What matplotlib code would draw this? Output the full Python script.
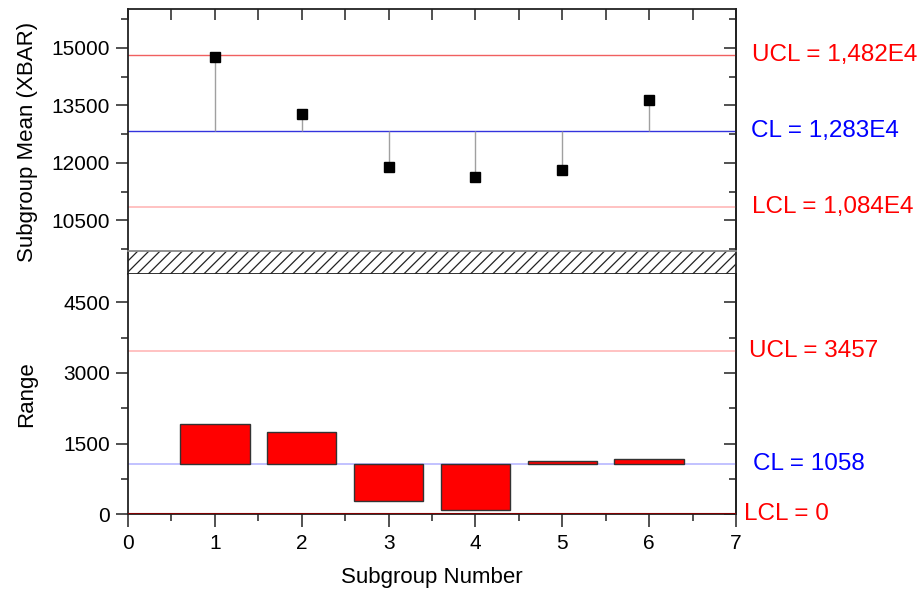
import matplotlib
matplotlib.use("Agg")
import matplotlib.pyplot as plt
from matplotlib.ticker import MultipleLocator
import matplotlib.transforms as mtransforms

plt.rcParams['font.family'] = ['Liberation Sans', 'DejaVu Sans']
plt.rcParams['hatch.linewidth'] = 0.9

subgroups = [1, 2, 3, 4, 5, 6]
xbar = [14760, 13260, 11880, 11640, 11810, 13640]
ranges = [1917, 1741, 289, 85, 1125, 1174]

xbar_ucl, xbar_cl, xbar_lcl = 14820, 12830, 10840
r_ucl, r_cl, r_lcl = 3457, 1058, 0

xbar_labels = ["UCL = 1,482E4", "CL = 1,283E4", "LCL = 1,084E4"]
r_labels = ["UCL = 3457", "CL = 1058", "LCL = 0"]

W, H = 922, 594
fig = plt.figure(figsize=(W / 100, H / 100), dpi=100)

left = 128 / W
width = 608 / W
ax1 = fig.add_axes([left, 1 - 251 / H, width, (251 - 9.4) / H])
axb = fig.add_axes([left, 1 - 274 / H, width, 23 / H])
ax2 = fig.add_axes([left, 1 - 514.3 / H, width, (514.3 - 274) / H])

spine_c = '#222222'
tick_fs = 15


def style_y(ax):
    ax.yaxis.set_major_locator(MultipleLocator(1500))
    ax.yaxis.set_minor_locator(MultipleLocator(750))
    ax.tick_params(axis='y', which='major', left=True, right=False, direction='out',
                   length=9, width=1.1, labelsize=tick_fs, pad=4, color=spine_c)
    ax.tick_params(axis='y', which='minor', left=True, right=False, direction='out',
                   length=5, width=1.1, color=spine_c)
    sec = ax.secondary_yaxis('right')
    sec.yaxis.set_major_locator(MultipleLocator(1500))
    sec.yaxis.set_minor_locator(MultipleLocator(750))
    sec.tick_params(axis='y', which='major', direction='in', length=9, width=1.1,
                    labelright=False, color=spine_c)
    sec.tick_params(axis='y', which='minor', direction='in', length=5, width=1.1,
                    color=spine_c)
    sec.spines['right'].set_color(spine_c)
    sec.spines['right'].set_linewidth(1.3)


# Upper panel
ax1.set_xlim(0, 7)
ax1.set_ylim(9700, 16000)
ax1.vlines(subgroups, xbar_cl, xbar, colors='#a0a0a0', linewidth=1.0, zorder=2)
ax1.axhline(xbar_ucl, color='#f06060', linewidth=1.0, zorder=1)
ax1.axhline(xbar_cl, color='#3333dd', linewidth=1.0, zorder=1)
ax1.axhline(xbar_lcl, color='#ffb8b8', linewidth=1.2, zorder=1)
ax1.plot(subgroups, xbar, 's', color='black', markersize=6.5, zorder=3)
ax1.xaxis.set_major_locator(MultipleLocator(1))
ax1.xaxis.set_minor_locator(MultipleLocator(0.5))
ax1.tick_params(axis='x', which='both', bottom=False, labelbottom=False,
                top=True, direction='in', length=8, width=1.1, color=spine_c)
style_y(ax1)
ax1.spines['bottom'].set_visible(False)
for s in ['top', 'left', 'right']:
    ax1.spines[s].set_color(spine_c)
    ax1.spines[s].set_linewidth(1.3)

# Break band
axb.set_xlim(0, 1)
axb.set_ylim(0, 1)
axb.fill_between([0, 1], 0, 1, facecolor='white', edgecolor='#222222', hatch='///', linewidth=0)
axb.set_xticks([])
axb.set_yticks([])
axb.spines['top'].set_color('#888888')
axb.spines['bottom'].set_color('#222222')
axb.spines['left'].set_color(spine_c)
axb.spines['right'].set_color(spine_c)
for s in axb.spines.values():
    s.set_linewidth(1.3)

# Lower panel
ax2.set_xlim(0, 7)
ax2.set_ylim(0, 5100)
heights = [r - r_cl for r in ranges]
ax2.bar(subgroups, heights, width=0.8, bottom=r_cl, color='#ff0000',
        edgecolor='#333333', linewidth=1.0, zorder=2)
ax2.axhline(r_ucl, color='#ffb8b8', linewidth=1.2, zorder=1)
ax2.axhline(r_cl, color='#b8b8ff', linewidth=1.2, zorder=1)
ax2.axhline(r_lcl, color='#800000', linewidth=1.5, zorder=3)
ax2.xaxis.set_major_locator(MultipleLocator(1))
ax2.xaxis.set_minor_locator(MultipleLocator(0.5))
ax2.tick_params(axis='x', which='major', direction='out', length=9, width=1.1,
                labelsize=tick_fs, pad=5, color=spine_c)
ax2.tick_params(axis='x', which='minor', direction='out', length=5, width=1.1, color=spine_c)
style_y(ax2)
ax2.spines['top'].set_visible(False)
for s in ['bottom', 'left', 'right']:
    ax2.spines[s].set_color(spine_c)
    ax2.spines[s].set_linewidth(1.3)

ax2.set_xlabel("Subgroup Number", fontsize=16, labelpad=10)

fig.text(27 / W, 1 - 142 / H, "Subgroup Mean (XBAR)", rotation=90, fontsize=16,
         ha='center', va='center')
fig.text(27 / W, 1 - 394 / H, "Range", rotation=90, fontsize=16,
         ha='center', va='center')

ann_fs = 17.5
tr1 = mtransforms.blended_transform_factory(fig.transFigure, ax1.transData)
tr2 = mtransforms.blended_transform_factory(fig.transFigure, ax2.transData)
ax1.text(752 / W, xbar_ucl, xbar_labels[0], transform=tr1, color='#ff0000', fontsize=ann_fs,
         ha='left', va='center', clip_on=False)
ax1.text(751 / W, xbar_cl, xbar_labels[1], transform=tr1, color='#0000ff', fontsize=ann_fs,
         ha='left', va='center', clip_on=False)
ax1.text(752 / W, xbar_lcl, xbar_labels[2], transform=tr1, color='#ff0000', fontsize=ann_fs,
         ha='left', va='center', clip_on=False)
ax2.text(749 / W, r_ucl, r_labels[0], transform=tr2, color='#ff0000', fontsize=ann_fs,
         ha='left', va='center', clip_on=False)
ax2.text(753 / W, r_cl, r_labels[1], transform=tr2, color='#0000ff', fontsize=ann_fs,
         ha='left', va='center', clip_on=False)
ax2.text(744 / W, r_lcl, r_labels[2], transform=tr2, color='#ff0000', fontsize=ann_fs,
         ha='left', va='center', clip_on=False)

fig.savefig("out.png", dpi=100)
